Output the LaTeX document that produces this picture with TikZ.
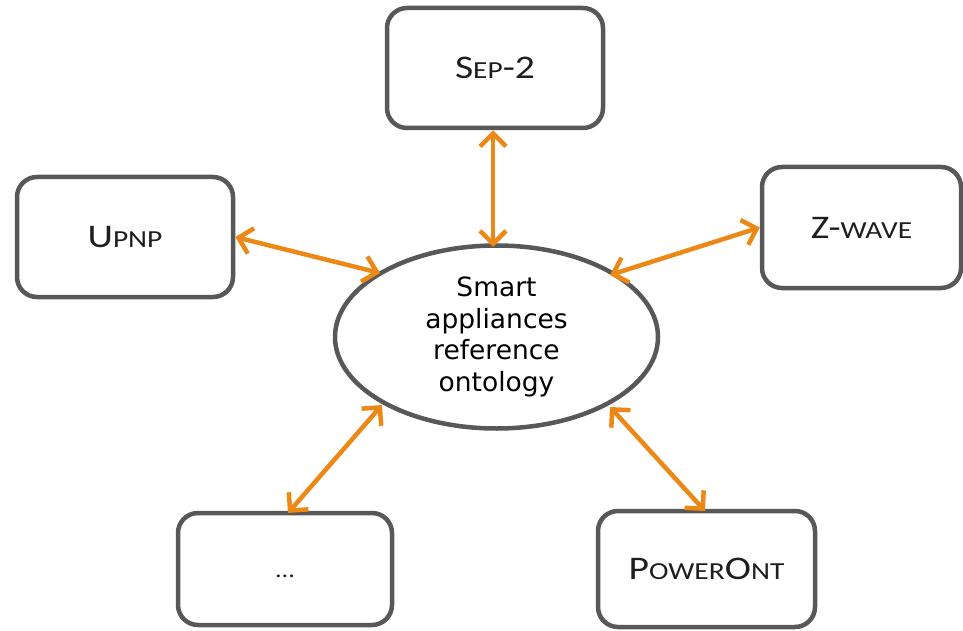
\documentclass[tikz,border=0pt]{standalone}
\usepackage{fontspec}
\setmainfont{DejaVu Sans}
\newfontfamily\boxfont{Carlito}[FakeStretch=1.2]
\usetikzlibrary{arrows.meta,shapes.geometric}
\definecolor{arrcol}{RGB}{236,136,22}
\definecolor{edgecol}{RGB}{88,88,88}
\definecolor{labelcol}{RGB}{30,30,30}
\newcommand\lowcaps[1]{{\fontsize{24.5}{28}\selectfont #1}}
\tikzset{
  boxnode/.style={draw=edgecol, line width=4.5pt, rounded corners=20pt, fill=white,
    inner sep=0pt, text=labelcol, font=\boxfont\fontsize{33}{38}\selectfont},
  hubnode/.style={ellipse, draw=edgecol, line width=4.5pt, fill=white, inner sep=0pt,
    align=center, font=\fontsize{26.5}{31.5}\selectfont},
  link/.style={draw=arrcol, line width=4.5pt,
    {Straight Barb[length=13pt,width=26pt]}-{Straight Barb[length=13pt,width=26pt]}}
}
\begin{document}
\begin{tikzpicture}[x=1pt,y=-1pt]
\useasboundingbox (0,0) rectangle (963,631);
\node[hubnode, minimum width=323pt, minimum height=183pt] (hub) at (496.5,337) {Smart\\appliances\\reference\\ontology};
\node[boxnode, minimum width=216pt, minimum height=120pt] (sep) at (495,68) {S\lowcaps{EP}-2};
\node[boxnode, minimum width=216pt, minimum height=120pt] (upnp) at (125,237) {U\lowcaps{PNP}};
\node[boxnode, minimum width=199pt, minimum height=121pt] (zw) at (861.5,227.5) {Z-\lowcaps{WAVE}};
\node[boxnode, minimum width=214pt, minimum height=112pt] (dots) at (285,569) {\raisebox{-18pt}{\fontsize{22}{26}\selectfont ...}};
\node[boxnode, minimum width=217pt, minimum height=116pt] (pow) at (706.5,569) {P\lowcaps{OWER}O\lowcaps{NT}};
\coordinate (hubN) at (493,247);
\coordinate (hubW) at (380,273);
\coordinate (hubE) at (610,275);
\coordinate (hubSW) at (382,405);
\coordinate (hubSE) at (610,407);
\coordinate (dotsN) at (288,513);
\coordinate (powN) at (705,511);
\draw[link] (sep.south -| hubN) -- (hubN);
\draw[link] (upnp.east) -- (hubW);
\draw[link] (zw.west) -- (hubE);
\draw[link] (dotsN) -- (hubSW);
\draw[link] (powN) -- (hubSE);
\end{tikzpicture}
\end{document}
